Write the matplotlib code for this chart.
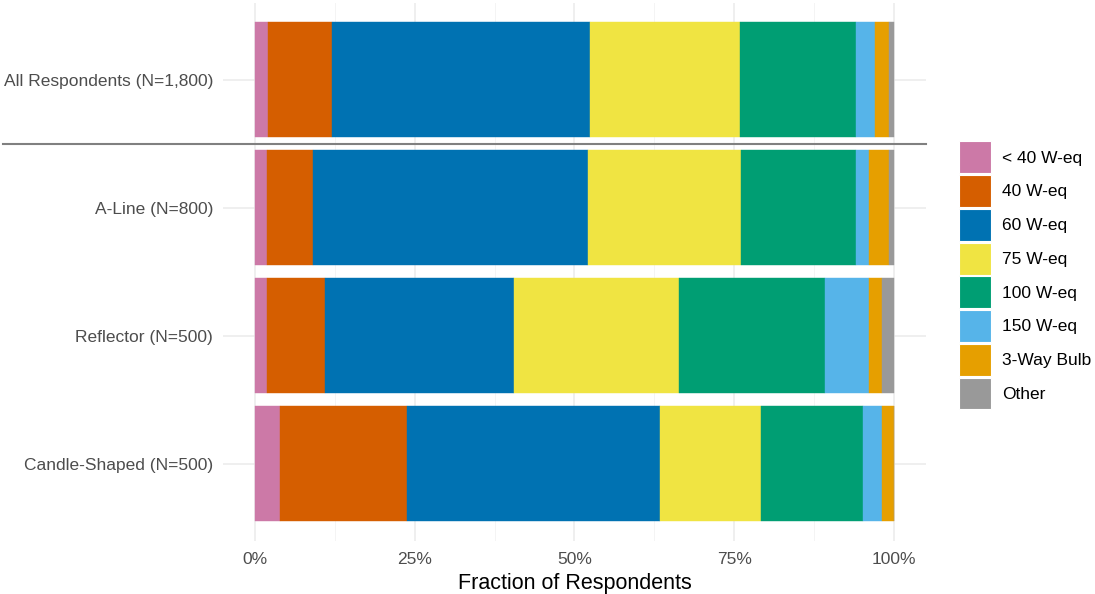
import matplotlib
matplotlib.use("Agg")
import matplotlib.pyplot as plt
import matplotlib.transforms as mtransforms
from matplotlib.patches import Patch
from matplotlib.lines import Line2D
import numpy as np

plt.rcParams['font.family'] = ['Liberation Sans', 'DejaVu Sans']

groups = ["Candle-Shaped (N=500)", "Reflector (N=500)", "A-Line (N=800)", "All Respondents (N=1,800)"]
categories = ["< 40 W-eq", "40 W-eq", "60 W-eq", "75 W-eq", "100 W-eq", "150 W-eq", "3-Way Bulb", "Other"]
colors = ["#CC79A7", "#D55E00", "#0072B2", "#F0E442", "#009E73", "#56B4E9", "#E69F00", "#999999"]

# percentages per category, order of groups above
lt40 = [4.0, 2.0, 2.0, 2.1]
w40 = [19.8, 9.0, 7.1, 10.0]
w60 = [39.6, 29.6, 43.0, 40.4]
w75 = [15.8, 25.8, 24.0, 23.3]
w100 = [15.9, 22.8, 17.9, 18.2]
w150 = [2.9, 6.9, 2.0, 3.0]
threeway = [2.0, 1.9, 3.1, 2.1]
other = [0.0, 2.0, 0.9, 0.9]

series = [lt40, w40, w60, w75, w100, w150, threeway, other]

fig = plt.figure(figsize=(10.95, 5.94), dpi=100)
ax = fig.add_axes([222.7 / 1095, 1 - 540.5 / 594, (926.3 - 222.7) / 1095, (540.5 - 2.7) / 594])

y = np.arange(len(groups))
data = np.array(series, dtype=float)
totals = data.sum(axis=0)
frac = data / totals
left = np.zeros(len(groups))
for vals, col in zip(frac, colors):
    ax.barh(y, vals, left=left, height=0.9, color=col, edgecolor=col, linewidth=0.3, zorder=2)
    left += vals

ax.set_xlim(-0.05, 1.05)
ax.set_ylim(-0.6, len(groups) - 0.4)
ax.set_xticks([0, 0.25, 0.5, 0.75, 1.0])
ax.set_xticklabels(["0%", "25%", "50%", "75%", "100%"])
ax.set_xticks([0.125, 0.375, 0.625, 0.875], minor=True)
ax.set_yticks(y)
ax.set_yticklabels(groups)

ax.grid(True, which='major', color='#EBEBEB', linewidth=1.1, zorder=0)
ax.grid(True, which='minor', axis='x', color='#F2F2F2', linewidth=0.6, zorder=0)
ax.set_axisbelow(True)
for s in ax.spines.values():
    s.set_visible(False)
ax.tick_params(axis='both', which='both', length=0, labelsize=12.5, labelcolor='#4D4D4D')
ax.tick_params(axis='y', pad=7)
ax.tick_params(axis='x', pad=8.5)
ax.set_xlabel("Fraction of Respondents", fontsize=15.5, color='black', labelpad=4)

# separator between overall and subgroups
sep = Line2D([(3 - 222.7) / 703.6, 1.0], [2.5, 2.5], color='#808080', linewidth=1.5, clip_on=False, zorder=3)
sep.set_transform(mtransforms.blended_transform_factory(ax.transAxes, ax.transData))
ax.add_line(sep)

handles = [Patch(facecolor=c, edgecolor='white', linewidth=0.8) for c in colors]
leg = fig.legend(handles, categories, loc='upper left', bbox_to_anchor=(959 / 1095, 1 - 141.5 / 594),
                 frameon=False, fontsize=12.5, handlelength=1.84, handleheight=2.45,
                 labelspacing=0.105, handletextpad=0.65, borderpad=0, borderaxespad=0)
for t in leg.get_texts():
    t.set_color('black')

fig.savefig("out.png", dpi=100, facecolor='white')
